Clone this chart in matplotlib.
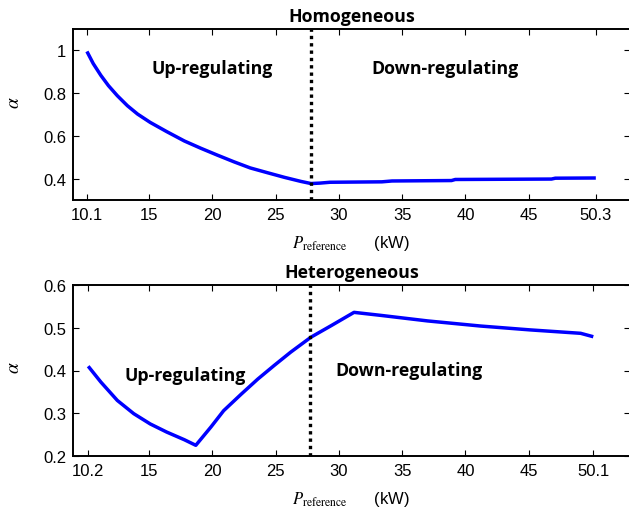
import matplotlib
matplotlib.use("Agg")
import matplotlib.pyplot as plt

plt.rcParams["font.family"] = ["Liberation Sans", "DejaVu Sans"]
plt.rcParams["mathtext.fontset"] = "stix"

# Homogeneous fleet: alpha versus reference power (kW)
homo_p = [10.1, 10.6, 11.2, 11.8, 12.5, 13.3, 14.1, 15.1, 16.4, 17.8, 19.1,
          20.4, 21.7, 23.0, 24.4, 25.7, 27.0, 27.8, 28.5, 29.3, 33.4, 34.2,
          38.9, 39.2, 46.8, 47.1, 50.3]
homo_alpha = [0.995, 0.938, 0.883, 0.835, 0.788, 0.741, 0.702, 0.663, 0.620,
              0.576, 0.542, 0.510, 0.479, 0.450, 0.427, 0.406, 0.387, 0.377,
              0.379, 0.383, 0.385, 0.389, 0.391, 0.396, 0.398, 0.402, 0.403]
homo_split = 27.8
homo_xticks = [10.1, 15, 20, 25, 30, 35, 40, 45, 50.3]
homo_xticklabels = ["10.1", "15", "20", "25", "30", "35", "40", "45", "50.3"]
homo_yticks = [0.4, 0.6, 0.8, 1.0]
homo_yticklabels = ["0.4", "0.6", "0.8", "1"]

# Heterogeneous fleet
hetero_p = [10.2, 11.2, 12.5, 13.8, 15.1, 16.4, 17.8, 18.7, 19.9, 20.9, 22.3,
            23.6, 24.9, 26.2, 27.8, 29.4, 31.2, 33.3, 37.0, 41.2, 45.1, 49.1,
            50.1]
hetero_alpha = [0.41, 0.373, 0.330, 0.299, 0.275, 0.256, 0.238, 0.225, 0.268,
                0.306, 0.345, 0.380, 0.412, 0.443, 0.478, 0.505, 0.536, 0.529,
                0.516, 0.504, 0.495, 0.487, 0.479]
hetero_split = 27.7
hetero_xticks = [10.2, 15, 20, 25, 30, 35, 40, 45, 50.1]
hetero_xticklabels = ["10.2", "15", "20", "25", "30", "35", "40", "45", "50.1"]
hetero_yticks = [0.2, 0.3, 0.4, 0.5, 0.6]
hetero_yticklabels = ["0.2", "0.3", "0.4", "0.5", "0.6"]

W, H = 629, 510
fig = plt.figure(figsize=(W / 100, H / 100), dpi=100)


def px_axes(left, top, right, bottom):
    return fig.add_axes([left / W, 1 - bottom / H, (right - left) / W, (bottom - top) / H])


ax1 = px_axes(73, 30, 630, 201)
ax2 = px_axes(73, 286, 630, 457)

bold_font = dict(family=["Open Sans", "DejaVu Sans"], fontweight="bold", fontsize=12.8)


def style(ax, title, xticks, xlabels, yticks, ylabels, ylim, alpha_y):
    ax.set_xlim(9, 53)
    ax.set_ylim(*ylim)
    ax.set_xticks(xticks)
    ax.set_xticklabels(xlabels)
    ax.set_yticks(yticks)
    ax.set_yticklabels(ylabels)
    ax.tick_params(direction="in", top=True, right=True, length=4, width=0.8,
                   labelsize=12, pad=5)
    for s in ax.spines.values():
        s.set_linewidth(1.4)
    ax.set_title(title, fontdict=bold_font, pad=6)
    ax.text(-0.105, alpha_y, r"$\alpha$", transform=ax.transAxes, rotation=90,
            ha="center", va="center", fontsize=14)
    ax.text(0.5, -0.25, r"$P_{\mathrm{reference}}$      (kW)", transform=ax.transAxes,
            ha="center", va="center", fontsize=12)


style(ax1, "Homogeneous", homo_xticks, homo_xticklabels, homo_yticks,
      homo_yticklabels, (0.3, 1.1), 0.573)
ax1.plot(homo_p, homo_alpha, color="#0000ff", lw=2.5, solid_capstyle="butt")
ax1.axvline(homo_split, color="black", lw=2.4, linestyle=(0, (1.0, 1.2)))
ax1.text(20.0, 0.918, "Up-regulating", ha="center", va="center", **bold_font)
ax1.text(38.35, 0.918, "Down-regulating", ha="center", va="center", **bold_font)

style(ax2, "Heterogeneous", hetero_xticks, hetero_xticklabels, hetero_yticks,
      hetero_yticklabels, (0.2, 0.6), 0.52)
ax2.plot(hetero_p, hetero_alpha, color="#0000ff", lw=2.5, solid_capstyle="butt")
ax2.axvline(hetero_split, color="black", lw=2.4, linestyle=(0, (1.0, 1.2)))
ax2.text(17.9, 0.39, "Up-regulating", ha="center", va="center", **bold_font)
ax2.text(35.55, 0.40, "Down-regulating", ha="center", va="center", **bold_font)

fig.savefig("out.png", dpi=100)
